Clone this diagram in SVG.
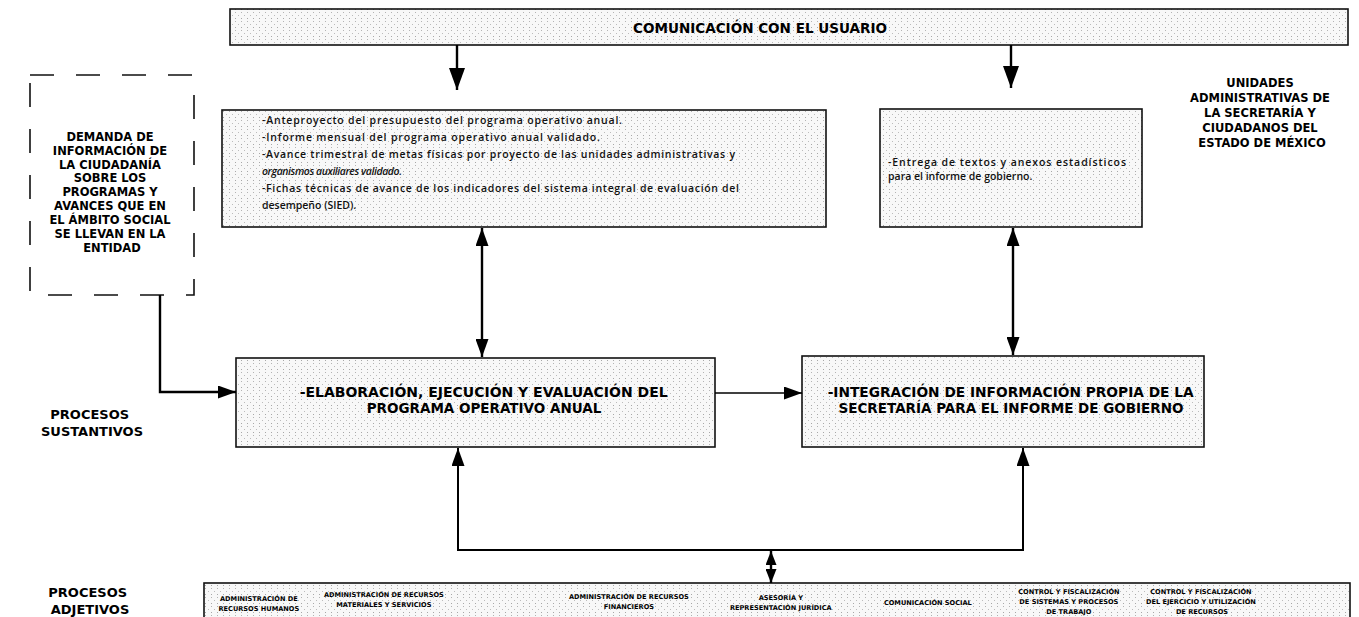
<svg xmlns="http://www.w3.org/2000/svg" width="1359" height="617" viewBox="0 0 1359 617">
<defs>
<pattern id="dots" width="6" height="9" patternUnits="userSpaceOnUse">
<rect width="6" height="9" fill="#f8f8f8"/>
<rect x="1" y="0" width="1" height="1" fill="#a8a8a8"/>
<rect x="1" y="3" width="1" height="1" fill="#b4b4b4"/>
<rect x="4" y="6" width="1" height="1" fill="#bcbcbc"/>
</pattern>
<marker id="ahL" viewBox="0 0 16 22" refX="8" refY="22" markerWidth="16" markerHeight="22" markerUnits="userSpaceOnUse" orient="0"><path d="M0,0 L16,0 L8,22 z" fill="#000"/></marker>
<marker id="ah" viewBox="0 0 18 13" refX="18" refY="6.5" markerWidth="18" markerHeight="13" markerUnits="userSpaceOnUse" orient="auto-start-reverse"><path d="M0,0 L18,6.5 L0,13 z" fill="#000"/></marker>
<marker id="ahs" viewBox="0 0 14 11" refX="14" refY="5.5" markerWidth="14" markerHeight="11" markerUnits="userSpaceOnUse" orient="auto-start-reverse"><path d="M0,0 L14,5.5 L0,11 z" fill="#000"/></marker>
</defs>
<style>
.box{fill:url(#dots);stroke:#111;stroke-width:1.6}
.dash{fill:none;stroke:#111;stroke-width:1.6;stroke-dasharray:24 22}
.cap{font-family:"DejaVu Sans","Liberation Sans",sans-serif;font-weight:700;fill:#000}
.body{font-family:"Open Sans","Liberation Sans",sans-serif;font-weight:600;font-size:10.5px;fill:#111}
.c{text-anchor:middle}
.con{fill:none;stroke:#000;stroke-width:2.4}
</style>

<g id="comunicacion">
<rect class="box" x="230" y="9" width="1118" height="36"/>
<text class="cap c" x="760" y="33" font-size="13.5" textLength="254" lengthAdjust="spacingAndGlyphs">COMUNICACIÓN CON EL USUARIO</text>
</g>

<g id="demanda">
<rect class="dash" x="30" y="75" width="164" height="220"/>
<text class="cap c" font-size="11.5">
<tspan x="112" y="141">DEMANDA DE</tspan>
<tspan x="112" y="155">INFORMACIÓN DE</tspan>
<tspan x="112" y="169">LA CIUDADANÍA</tspan>
<tspan x="112" y="182">SOBRE LOS</tspan>
<tspan x="112" y="196">PROGRAMAS Y</tspan>
<tspan x="112" y="210">AVANCES QUE EN</tspan>
<tspan x="112" y="224">EL ÁMBITO SOCIAL</tspan>
<tspan x="112" y="238">SE LLEVAN EN LA</tspan>
<tspan x="112" y="252">ENTIDAD</tspan>
</text>
</g>

<g id="informes">
<rect class="box" x="222" y="110" width="604" height="117"/>
<text class="body" x="262" y="124" textLength="360">-Anteproyecto del presupuesto del programa operativo anual.</text>
<text class="body" x="262" y="141" textLength="338">-Informe mensual del programa operativo anual validado.</text>
<text class="body" x="262" y="158" textLength="473">-Avance trimestral de metas físicas por proyecto de las unidades administrativas y</text>
<text class="body" x="262" y="175" font-style="italic" textLength="140">organismos auxiliares validado.</text>
<text class="body" x="262" y="192" textLength="477">-Fichas técnicas de avance de los indicadores del sistema integral de evaluación del</text>
<text class="body" x="262" y="209">desempeño (SIED).</text>
</g>

<g id="entrega">
<rect class="box" x="880" y="109" width="262" height="118"/>
<text class="body" x="888" y="166" textLength="238">-Entrega de textos y anexos estadísticos</text>
<text class="body" x="888" y="180">para el informe de gobierno.</text>
</g>

<g id="unidades">
<text class="cap c" font-size="11.5">
<tspan x="1262" y="87">UNIDADES</tspan>
<tspan x="1262" y="102">ADMINISTRATIVAS DE</tspan>
<tspan x="1262" y="117">LA SECRETARÍA Y</tspan>
<tspan x="1262" y="132">CIUDADANOS DEL</tspan>
<tspan x="1262" y="147">ESTADO DE MÉXICO</tspan>
</text>
</g>

<g id="sustantivos-label">
<text class="cap c" font-size="13">
<tspan x="92" y="419">PROCESOS</tspan>
<tspan x="92" y="436">SUSTANTIVOS</tspan>
</text>
</g>

<g id="elaboracion">
<rect class="box" x="236" y="358" width="479" height="89"/>
<text class="cap c" font-size="13.5">
<tspan x="486" y="397" textLength="368" lengthAdjust="spacingAndGlyphs">-ELABORACIÓN, EJECUCIÓN Y EVALUACIÓN DEL</tspan>
<tspan x="484" y="413">PROGRAMA OPERATIVO ANUAL</tspan>
</text>
</g>

<g id="integracion">
<rect class="box" x="802" y="356" width="402" height="91"/>
<text class="cap c" font-size="13.5">
<tspan x="1013" y="397" textLength="366" lengthAdjust="spacingAndGlyphs">-INTEGRACIÓN DE INFORMACIÓN PROPIA DE LA</tspan>
<tspan x="1011" y="413">SECRETARÍA PARA EL INFORME DE GOBIERNO</tspan>
</text>
</g>

<g id="adjetivos-label">
<text class="cap c" font-size="13">
<tspan x="90" y="597">PROCESOS</tspan>
<tspan x="90" y="614">ADJETIVOS</tspan>
</text>
</g>

<g id="adjetivos">
<rect class="box" x="204" y="583" width="1146" height="40"/>
<text class="cap c" font-size="6.6">
<tspan x="260" y="601">ADMINISTRACIÓN DE</tspan>
<tspan x="260" y="611">RECURSOS HUMANOS</tspan>
<tspan x="385" y="597">ADMINISTRACIÓN DE RECURSOS</tspan>
<tspan x="385" y="607">MATERIALES Y SERVICIOS</tspan>
<tspan x="630" y="599">ADMINISTRACIÓN DE RECURSOS</tspan>
<tspan x="630" y="609">FINANCIEROS</tspan>
<tspan x="782" y="600">ASESORÍA Y</tspan>
<tspan x="782" y="610">REPRESENTACIÓN JURÍDICA</tspan>
<tspan x="929" y="605">COMUNICACIÓN SOCIAL</tspan>
<tspan x="1070" y="594">CONTROL Y FISCALIZACIÓN</tspan>
<tspan x="1070" y="604">DE SISTEMAS Y PROCESOS</tspan>
<tspan x="1070" y="614">DE TRABAJO</tspan>
<tspan x="1202" y="594">CONTROL Y FISCALIZACIÓN</tspan>
<tspan x="1202" y="604">DEL EJERCICIO Y UTILIZACIÓN</tspan>
<tspan x="1202" y="614">DE RECURSOS</tspan>
</text>
</g>

<g id="connectors">
<path class="con" d="M457,45 L457,90" marker-end="url(#ahL)"/>
<path class="con" d="M1011,45 L1011,88" marker-end="url(#ahL)"/>
<path class="con" d="M482,228 L482,357" marker-start="url(#ah)" marker-end="url(#ah)"/>
<path class="con" d="M1013,228 L1013,355" marker-start="url(#ah)" marker-end="url(#ah)"/>
<path class="con" d="M160,295 L160,392 L236,392" marker-end="url(#ah)"/>
<path class="con" style="stroke-width:1.6" d="M715,393 L802,393" marker-end="url(#ah)"/>
<path class="con" style="stroke-width:2" d="M458,448 L458,550 L1023,550 L1023,448" marker-start="url(#ah)" marker-end="url(#ah)"/>
<path class="con" d="M771,551 L771,583" marker-start="url(#ahs)" marker-end="url(#ahs)"/>
</g>
</svg>
